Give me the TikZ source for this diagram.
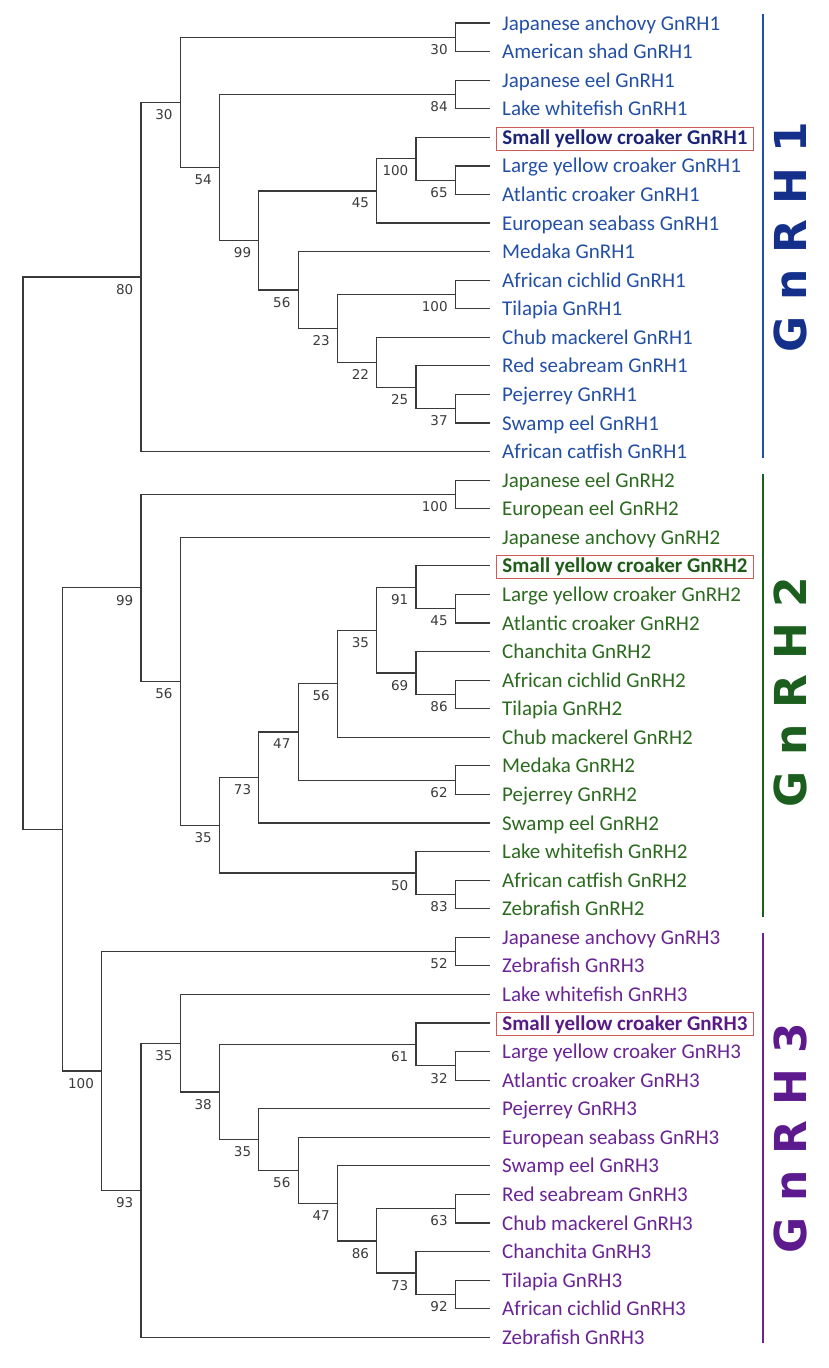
\documentclass[tikz,border=0pt]{standalone}
\usepackage{fontspec}
\setmainfont{Carlito}
\newfontfamily\bsfont{DejaVu Sans}
\newfontfamily\bigfont{DejaVu Sans}
\definecolor{treegray}{HTML}{3A3A3A}
\definecolor{gOne}{HTML}{2350A6}
\definecolor{gOneB}{HTML}{1B2479}
\definecolor{gOneBig}{HTML}{14308A}
\definecolor{gTwo}{HTML}{2B6A1F}
\definecolor{gTwoB}{HTML}{1F5C18}
\definecolor{gTwoBig}{HTML}{1B5E1E}
\definecolor{gThree}{HTML}{6A2496}
\definecolor{gThreeB}{HTML}{5A1A86}
\definecolor{gThreeBig}{HTML}{5C1A8E}
\definecolor{boxred}{HTML}{D05A5A}
\tikzset{
  branch/.style={draw=treegray, line width=1.2pt},
  bs/.style={anchor=north east, inner sep=0pt, font=\bsfont\fontsize{13.5}{14}\selectfont, text=treegray},
  leaf/.style={anchor=base west, inner xsep=6pt, inner ysep=2.3pt, text height=15pt, text depth=3.5pt, font=\fontsize{21}{22}\selectfont},
  hl/.style={draw=boxred, line width=0.9pt, font=\bfseries\fontsize{21}{22}\selectfont},
  bar/.style={line width=2.6pt},
  big/.style={rotate=90, font=\bigfont\bfseries\fontsize{44}{46}\selectfont}
}
\newcommand\bnode[4]{\coordinate (#1) at (#2,#3); \node[bs] (#1l) at (#2-7.5,#3+7) {#4};}
\newcommand\bcoord[3]{\coordinate (#1) at (#2,#3);}
\newcommand\leafn[4]{\coordinate (e#1) at (490,#2); \node[leaf,#3] (t#1) at (496,#2+7) {#4};}
\begin{document}
\begin{tikzpicture}[x=1pt,y=-1pt]
\useasboundingbox (0,0) rectangle (828,1368);
% leaves GnRH1
\leafn{0}{23.0}{text=gOne}{Japanese anchovy GnRH1}
\leafn{1}{51.6}{text=gOne}{American shad GnRH1}
\leafn{2}{80.1}{text=gOne}{Japanese eel GnRH1}
\leafn{3}{108.7}{text=gOne}{Lake whitefish GnRH1}
\leafn{4}{137.3}{hl,text=gOneB}{Small yellow croaker GnRH1}
\leafn{5}{165.9}{text=gOne}{Large yellow croaker GnRH1}
\leafn{6}{194.4}{text=gOne}{Atlantic croaker GnRH1}
\leafn{7}{223.0}{text=gOne}{European seabass GnRH1}
\leafn{8}{251.6}{text=gOne}{Medaka GnRH1}
\leafn{9}{280.1}{text=gOne}{African cichlid GnRH1}
\leafn{10}{308.7}{text=gOne}{Tilapia GnRH1}
\leafn{11}{337.3}{text=gOne}{Chub mackerel GnRH1}
\leafn{12}{365.8}{text=gOne}{Red seabream GnRH1}
\leafn{13}{394.4}{text=gOne}{Pejerrey GnRH1}
\leafn{14}{423.0}{text=gOne}{Swamp eel GnRH1}
\leafn{15}{451.6}{text=gOne}{African catfish GnRH1}
% leaves GnRH2
\leafn{16}{480.1}{text=gTwo}{Japanese eel GnRH2}
\leafn{17}{508.7}{text=gTwo}{European eel GnRH2}
\leafn{18}{537.3}{text=gTwo}{Japanese anchovy GnRH2}
\leafn{19}{565.8}{hl,text=gTwoB}{Small yellow croaker GnRH2}
\leafn{20}{594.4}{text=gTwo}{Large yellow croaker GnRH2}
\leafn{21}{623.0}{text=gTwo}{Atlantic croaker GnRH2}
\leafn{22}{651.5}{text=gTwo}{Chanchita GnRH2}
\leafn{23}{680.1}{text=gTwo}{African cichlid GnRH2}
\leafn{24}{708.7}{text=gTwo}{Tilapia GnRH2}
\leafn{25}{737.3}{text=gTwo}{Chub mackerel GnRH2}
\leafn{26}{765.8}{text=gTwo}{Medaka GnRH2}
\leafn{27}{794.4}{text=gTwo}{Pejerrey GnRH2}
\leafn{28}{823.0}{text=gTwo}{Swamp eel GnRH2}
\leafn{29}{851.5}{text=gTwo}{Lake whitefish GnRH2}
\leafn{30}{880.1}{text=gTwo}{African catfish GnRH2}
\leafn{31}{908.7}{text=gTwo}{Zebrafish GnRH2}
% leaves GnRH3
\leafn{32}{937.2}{text=gThree}{Japanese anchovy GnRH3}
\leafn{33}{965.8}{text=gThree}{Zebrafish GnRH3}
\leafn{34}{994.4}{text=gThree}{Lake whitefish GnRH3}
\leafn{35}{1023.0}{hl,text=gThreeB}{Small yellow croaker GnRH3}
\leafn{36}{1051.5}{text=gThree}{Large yellow croaker GnRH3}
\leafn{37}{1080.1}{text=gThree}{Atlantic croaker GnRH3}
\leafn{38}{1108.7}{text=gThree}{Pejerrey GnRH3}
\leafn{39}{1137.2}{text=gThree}{European seabass GnRH3}
\leafn{40}{1165.8}{text=gThree}{Swamp eel GnRH3}
\leafn{41}{1194.4}{text=gThree}{Red seabream GnRH3}
\leafn{42}{1223.0}{text=gThree}{Chub mackerel GnRH3}
\leafn{43}{1251.5}{text=gThree}{Chanchita GnRH3}
\leafn{44}{1280.1}{text=gThree}{Tilapia GnRH3}
\leafn{45}{1308.7}{text=gThree}{African cichlid GnRH3}
\leafn{46}{1337.2}{text=gThree}{Zebrafish GnRH3}
% internal nodes GnRH1
\bnode{A1}{455.3}{37.3}{30}
\bnode{A2}{455.3}{94.4}{84}
\bnode{A3}{455.3}{180.2}{65}
\bnode{A4}{416}{158.7}{100}
\bnode{A5}{376.7}{190.9}{45}
\bnode{A6}{455.3}{294.4}{100}
\bnode{A7}{455.3}{408.7}{37}
\bnode{A8}{416}{387.3}{25}
\bnode{A9}{376.7}{362.3}{22}
\bnode{A10}{337.4}{328.4}{23}
\bnode{A11}{298.1}{290}{56}
\bnode{A12}{258.8}{240.5}{99}
\bnode{A13}{219.5}{167.5}{54}
\bnode{A14}{180.2}{102.4}{30}
\bnode{A15}{140.9}{277}{80}
% GnRH2
\bnode{B1}{455.3}{494.4}{100}
\bnode{B2}{455.3}{608.7}{45}
\bnode{B3}{416}{587.3}{91}
\bnode{B4}{455.3}{694.4}{86}
\bnode{B5}{416}{673}{69}
\bnode{B6}{376.7}{630.1}{35}
\bnode{B7}{337.4}{683.7}{56}
\bnode{B8}{455.3}{780.1}{62}
\bnode{B9}{298.1}{731.9}{47}
\bnode{B10}{258.8}{777.5}{73}
\bnode{B11}{455.3}{894.4}{83}
\bnode{B12}{416}{873}{50}
\bnode{B13}{219.5}{825.2}{35}
\bnode{B14}{180.2}{681.3}{56}
\bnode{B15}{140.9}{587.8}{99}
% GnRH3
\bnode{C1}{455.3}{951.5}{52}
\bnode{C2}{455.3}{1065.8}{32}
\bnode{C3}{416}{1044.4}{61}
\bnode{C4}{455.3}{1208.7}{63}
\bnode{C5}{455.3}{1294.4}{92}
\bnode{C6}{416}{1273}{73}
\bnode{C7}{376.7}{1240.9}{86}
\bnode{C8}{337.4}{1203.4}{47}
\bnode{C9}{298.1}{1170.3}{56}
\bnode{C10}{258.8}{1139.5}{35}
\bnode{C11}{219.5}{1092}{38}
\bnode{C12}{180.2}{1043.2}{35}
\bnode{C13}{140.9}{1190.2}{93}
\bnode{C14}{101.6}{1070.9}{100}
\bcoord{D}{62.3}{829.4}
\bcoord{R}{23}{553.2}
% branches
\foreach \p/\c in {A1/e0,A1/e1,A2/e2,A2/e3,A3/e5,A3/e6,A4/e4,A4/A3,A5/A4,A5/e7,
  A6/e9,A6/e10,A7/e13,A7/e14,A8/e12,A8/A7,A9/e11,A9/A8,A10/A6,A10/A9,A11/e8,A11/A10,
  A12/A5,A12/A11,A13/A2,A13/A12,A14/A1,A14/A13,A15/A14,A15/e15,
  B1/e16,B1/e17,B2/e20,B2/e21,B3/e19,B3/B2,B4/e23,B4/e24,B5/e22,B5/B4,B6/B3,B6/B5,
  B7/B6,B7/e25,B8/e26,B8/e27,B9/B7,B9/B8,B10/B9,B10/e28,B11/e30,B11/e31,B12/e29,B12/B11,
  B13/B10,B13/B12,B14/e18,B14/B13,B15/B1,B15/B14,
  C1/e32,C1/e33,C2/e36,C2/e37,C3/e35,C3/C2,C4/e41,C4/e42,C5/e44,C5/e45,C6/e43,C6/C5,
  C7/C4,C7/C6,C8/e40,C8/C7,C9/e39,C9/C8,C10/e38,C10/C9,C11/C3,C11/C10,C12/e34,C12/C11,
  C13/C12,C13/e46,C14/C1,C14/C13,D/B15,D/C14,R/A15,R/D}
  \draw[branch] (\p) |- (\c);
% clade bars
\coordinate (b1t) at (763,14); \coordinate (b1b) at (763,458);
\coordinate (b2t) at (763,474); \coordinate (b2b) at (763,917);
\coordinate (b3t) at (763,933); \coordinate (b3b) at (763,1343);
\draw[bar, draw=gOne] (b1t) -- (b1b);
\draw[bar, draw=gTwoBig] (b2t) -- (b2b);
\draw[bar, draw=gThree] (b3t) -- (b3b);
\node[big, text=gOneBig] (L1) at (790,237) {G n R H 1};
\node[big, text=gTwoBig] (L2) at (790,692) {G n R H 2};
\node[big, text=gThreeBig] (L3) at (790,1138) {G n R H 3};
\end{tikzpicture}
\end{document}
